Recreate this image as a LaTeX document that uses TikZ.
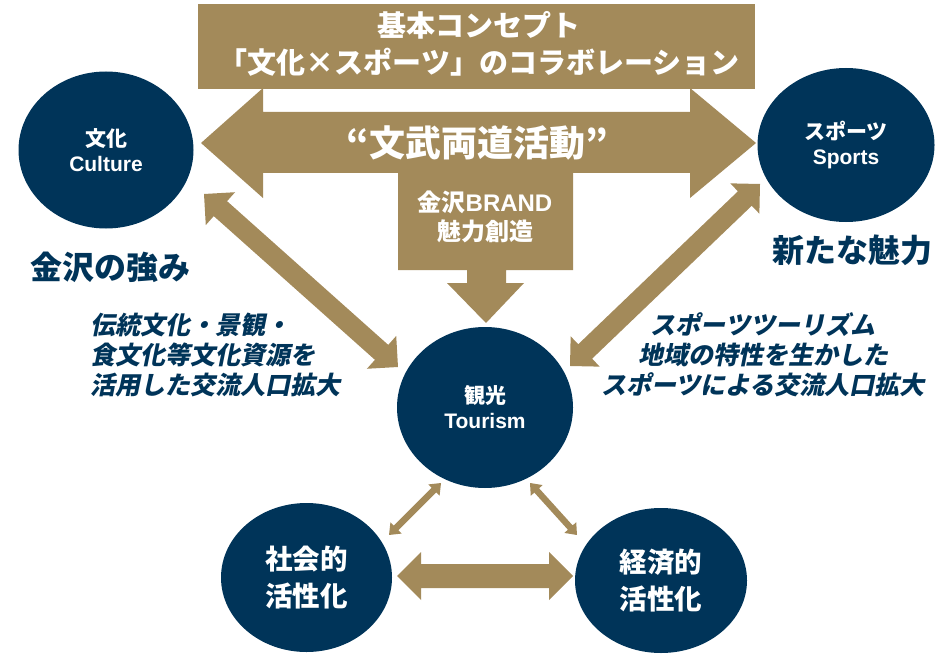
\documentclass[tikz,border=0pt]{standalone}
\usepackage{fontspec}
\setmainfont{Noto Sans CJK JP}
\newfontfamily\lat{Liberation Sans}
\newfontfamily\slcjk[FakeSlant=0.2]{Noto Sans CJK JP}
\usetikzlibrary{shapes.geometric,calc}
\definecolor{gld}{RGB}{163,138,90}
\definecolor{nvy}{RGB}{0,52,89}
% double-headed block arrow: from, to, shaft half width, head half width, head length
\newcommand\dbarrow[5]{%
  \fill[gld] let \p1=($(#2)-(#1)$), \n1={atan2(\y1,\x1)}, \n2={veclen(\x1,\y1)} in
    [shift={(#1)},rotate=\n1]
    (0,0) -- (#5,#4) -- (#5,#3) -- (\n2-#5,#3) -- (\n2-#5,#4) -- (\n2,0)
    -- (\n2-#5,-#4) -- (\n2-#5,-#3) -- (#5,-#3) -- (#5,-#4) -- cycle;}
\tikzset{
  bubble/.style={ellipse, fill=nvy, draw=none, inner sep=0pt, text=white, align=center,
    font=\fontsize{21}{25}\selectfont\bfseries},
  bigbubble/.style={bubble, font=\fontsize{27.5}{37}\selectfont\bfseries},
  wlbl/.style={text=white, inner sep=0pt, align=center},
  nlbl/.style={text=nvy, inner sep=0pt, font=\fontsize{32}{38}\selectfont\bfseries},
  itlbl/.style={text=nvy, inner sep=0pt, font=\fontsize{25}{30}\selectfont\slcjk\bfseries},
}
\begin{document}
\begin{tikzpicture}[x=1pt,y=-1pt]
\useasboundingbox (0,0) rectangle (936,655);

% banner
\node[fill=gld, minimum width=557pt, minimum height=85pt, inner sep=0pt] (banner) at (476.5,46.5) {};
\node[wlbl, font=\fontsize{29}{37}\selectfont\bfseries] (title) at (479,43.5)
  {基本コンセプト\\「文化×スポーツ」のコラボレーション};

% big double arrow with downward branch
\fill[gld] (201,143) -- (263,88) -- (263,112) -- (690,112) -- (690,88) -- (756,143)
  -- (690,198) -- (690,173) -- (573,173) -- (573,270) -- (506,270) -- (506,283)
  -- (524,283) -- (486,323) -- (447,283) -- (467,283) -- (467,270) -- (398,270)
  -- (398,173) -- (263,173) -- (263,198) -- cycle;
\node[wlbl, font=\fontsize{36}{40}\selectfont\bfseries] (bunbu) at (477,143) {“文武両道活動”};
\node[wlbl, font=\fontsize{24}{29}\selectfont\bfseries] (brand) at (485,217)
  {金沢{\lat BRAND}\\魅力創造};

% circles
\node[bubble, minimum width=175pt, minimum height=157pt] (culture) at (106,150) {文化\\{\lat Culture}};
\node[bubble, minimum width=177pt, minimum height=154pt] (sports) at (846,145) {スポーツ\\{\lat Sports}};
\node[bubble, minimum width=176pt, minimum height=161pt] (tourism) at (485,407.5) {観光\\{\lat Tourism}};
\node[bigbubble, minimum width=171pt, minimum height=149pt] (social) at (306.5,577.5) {社会的\\活性化};
\node[bigbubble, minimum width=172pt, minimum height=145pt] (econ) at (661,580.5) {経済的\\活性化};

% labels
\node[nlbl] (strength) at (110.5,267) {金沢の強み};
\node[nlbl] (charm) at (852,250) {新たな魅力};
\node[itlbl, anchor=west, align=left] (lefttxt) at (90,355)
  {伝統文化・景観・\\食文化等文化資源を\\活用した交流人口拡大};
\node[itlbl, align=center] (righttxt) at (763,355)
  {スポーツツーリズム\\地域の特性を生かした\\スポーツによる交流人口拡大};

% arrow end points
\coordinate (cu) at (204,194);
\coordinate (tl) at (398,367);
\coordinate (sp) at (760,184);
\coordinate (tr) at (570,366);
\coordinate (tbl) at (441,483);
\coordinate (sob) at (389,535);
\coordinate (tbr) at (530,483);
\coordinate (ecb) at (577,535);
\coordinate (sor) at (397,576);
\coordinate (ecl) at (573,576);

\dbarrow{cu}{tl}{10}{22}{22}
\dbarrow{sp}{tr}{10}{21}{21}
\dbarrow{tbl}{sob}{3.2}{8}{10}
\dbarrow{tbr}{ecb}{3.2}{8}{10}
\dbarrow{sor}{ecl}{12}{24}{24}
\end{tikzpicture}
\end{document}
